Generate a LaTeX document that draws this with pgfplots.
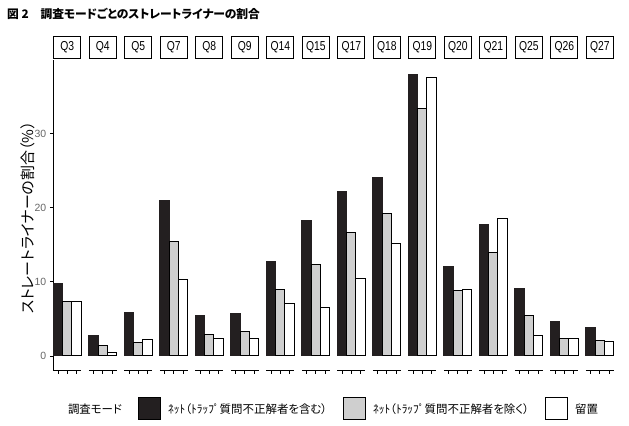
\documentclass[border=0pt]{standalone}
\usepackage{fontspec}
\usepackage{pgfplots}
\pgfplotsset{compat=1.18}
\setmainfont{Liberation Sans}
\newfontfamily\jp[RawFeature=+palt]{Noto Sans CJK JP}
\newfontfamily\stripfont[FakeStretch=0.8]{Liberation Sans}
\definecolor{barblack}{HTML}{231F20}
\definecolor{bargray}{HTML}{CFCFCF}
\definecolor{tickgray}{HTML}{666666}

\pgfplotsset{
  panel/.style={
    scale only axis, width=28bp, height=310bp,
    anchor=south west,
    xmin=0.5, xmax=3.5, ymin=-1.89, ymax=39.9,
    axis lines*=left,
    axis line style={line width=0.9bp, black},
    xtick={1,2,3}, xticklabels={},
    tick align=outside, major tick length=3.5bp,
    tick style={line width=0.8bp, black},
    clip=false,
    every axis title/.style={at={(0.5,1)}, anchor=south, yshift=1.5bp, draw=black,
      line width=1.1bp, minimum width=27bp, minimum height=22bp, inner sep=0pt,
      outer sep=0pt, font=\stripfont\fontsize{13}{13}\selectfont},
  },
  inner panel/.style={panel, ytick=\empty, y axis line style={draw=none}},
  bk/.style={ybar, bar width=1, bar shift=0pt, fill=barblack, draw=barblack, line width=1bp},
  gy/.style={ybar, bar width=1, bar shift=0pt, fill=bargray, draw=black, line width=1bp},
  wh/.style={ybar, bar width=1, bar shift=0pt, fill=white, draw=black, line width=1bp},
}

% #1 panel index, #2 question, #3 net incl., #4 net excl., #5 tomeoki
\newcommand\panel[5]{%
  \begin{axis}[inner panel, at={({53.3bp+#1*35.5bp},56bp)}, title={#2}]
    \addplot[bk] coordinates {(1,#3)};
    \addplot[gy] coordinates {(2,#4)};
    \addplot[wh] coordinates {(3,#5)};
  \end{axis}}

\begin{document}
\begin{tikzpicture}
\useasboundingbox (0,0) rectangle (629bp,426bp);

\node[anchor=west, inner sep=0pt, font=\jp\bfseries\fontsize{11.8}{11.8}\selectfont] at (7bp,412bp)
  {図 2　調査モードごとのストレートライナーの割合};

\node[rotate=90, inner sep=0pt, font=\jp\fontsize{15}{15}\selectfont] at (28bp,208bp)
  {ストレートライナーの割合（\%）};

\begin{axis}[panel, at={(53.3bp,56bp)}, title={Q3},
  ytick={0,10,20,30},
  yticklabel style={font=\fontsize{10.5}{10.5}\selectfont, text=tickgray},
  /pgf/number format/assume math mode=true,
  legend columns=4,
  legend style={at={(0.275,-0.1258)}, anchor=west, draw=none, fill=none,
    inner sep=0pt, outer sep=0pt, font=\jp\fontsize{11.5}{11.5}\selectfont,
    nodes={inner sep=0pt},
    /tikz/every odd column/.style={column sep=7bp},
    /tikz/every even column/.style={column sep=16bp}},
  legend cell align=left]
  \addlegendimage{empty legend}
  \addlegendentry{調査モード}
  \addplot[bk, legend image code/.code={\draw[fill=barblack, draw=black, line width=1bp] (0bp,-11bp) rectangle (22bp,11bp);}] coordinates {(1,9.8)};
  \addlegendentry{ﾈｯﾄ（ﾄﾗｯﾌﾟ質問不正解者を含む）}
  \addplot[gy, legend image code/.code={\draw[fill=bargray, draw=black, line width=1bp] (0bp,-11bp) rectangle (22bp,11bp);}] coordinates {(2,7.3)};
  \addlegendentry{ﾈｯﾄ（ﾄﾗｯﾌﾟ質問不正解者を除く）}
  \addplot[wh, legend image code/.code={\draw[fill=white, draw=black, line width=1bp] (0bp,-11bp) rectangle (22bp,11bp);}] coordinates {(3,7.3)};
  \addlegendentry{留置}
\end{axis}

\panel{1}{Q4}{2.7}{1.4}{0.45}
\panel{2}{Q5}{5.8}{1.8}{2.2}
\panel{3}{Q7}{21.0}{15.4}{10.3}
\panel{4}{Q8}{5.5}{2.9}{2.4}
\panel{5}{Q9}{5.7}{3.3}{2.3}
\panel{6}{Q14}{12.8}{9.0}{7.05}
\panel{7}{Q15}{18.2}{12.3}{6.6}
\panel{8}{Q17}{22.2}{16.6}{10.4}
\panel{9}{Q18}{24.1}{19.2}{15.2}
\panel{10}{Q19}{38.0}{33.3}{37.5}
\panel{11}{Q20}{12.0}{8.8}{9.0}
\panel{12}{Q21}{17.7}{14.0}{18.5}
\panel{13}{Q25}{9.1}{5.5}{2.8}
\panel{14}{Q26}{4.6}{2.3}{2.3}
\panel{15}{Q27}{3.9}{2.1}{2.0}
\end{tikzpicture}
\end{document}
